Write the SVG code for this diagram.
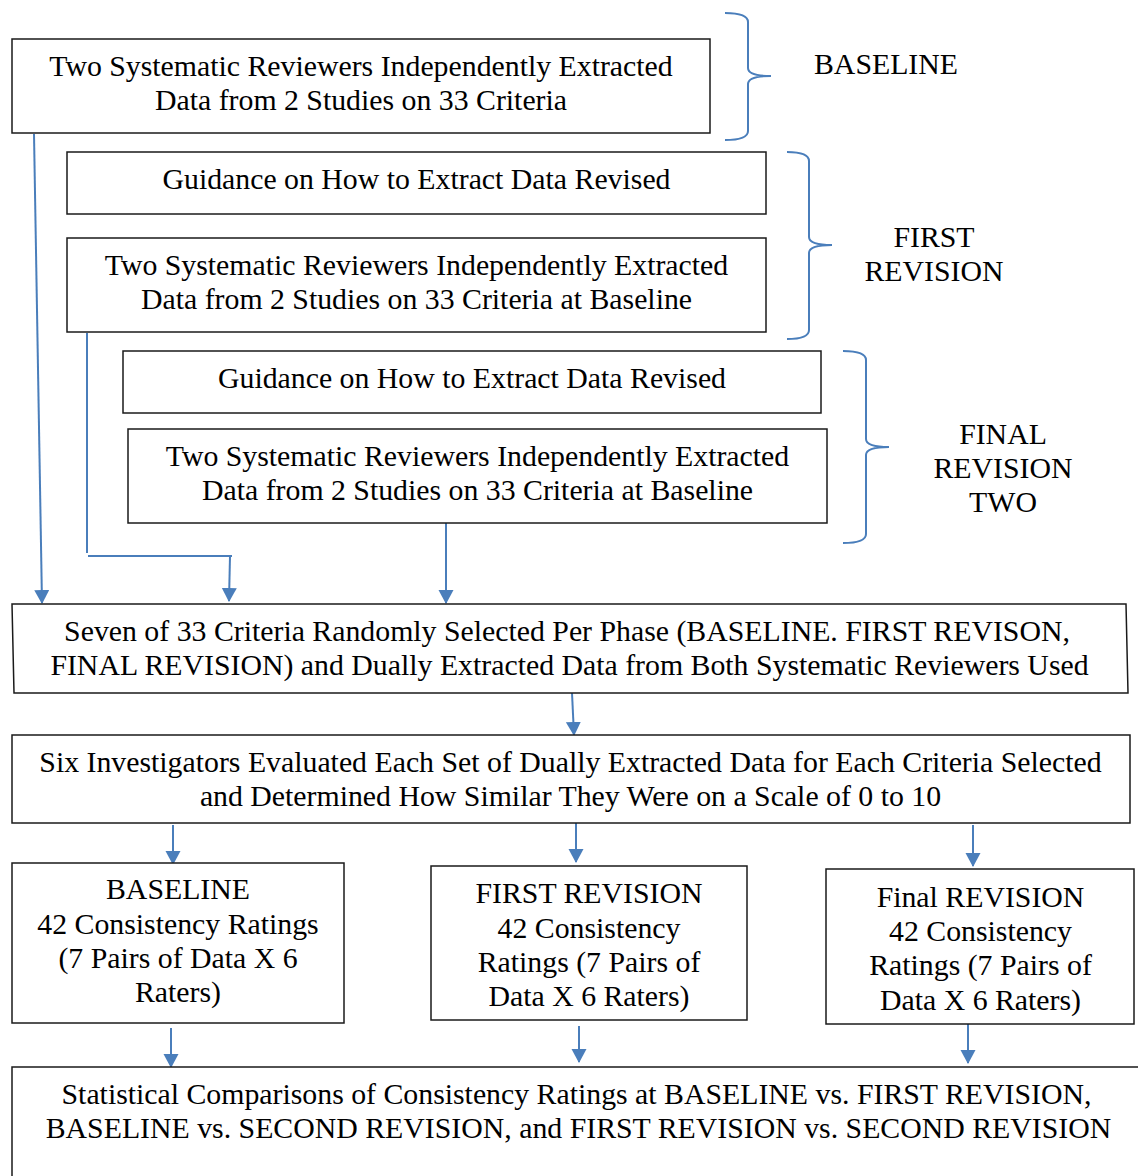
<svg xmlns="http://www.w3.org/2000/svg" width="1138" height="1176" viewBox="0 0 1138 1176">
<defs>
<style>
.box{fill:#fff;stroke:#1a1a1a;stroke-width:1.5}
.t{font-family:"Liberation Serif","Times New Roman",serif;font-size:29.8px;fill:#000;text-anchor:middle}
.c{fill:none;stroke:#4a7ebb;stroke-width:2}
.br{fill:none;stroke:#4a7ebb;stroke-width:2}
</style>
<marker id="ah" markerUnits="userSpaceOnUse" markerWidth="16" markerHeight="16" refX="13" refY="7.5" orient="auto">
<path d="M0,0 L14,7.5 L0,15 z" fill="#4a7ebb"/>
</marker>
</defs>
<rect width="1138" height="1176" fill="#fff"/>

<g id="connectors">
<path class="c" d="M34,134 L42,603" marker-end="url(#ah)"/>
<path class="c" d="M87,333 L87,553"/>
<path class="c" d="M88,556 L232,556"/>
<path class="c" d="M230,556 L229,601" marker-end="url(#ah)"/>
<path class="c" d="M446,523 L446,603" marker-end="url(#ah)"/>
<path class="c" d="M572,693 L574,735" marker-end="url(#ah)"/>
<path class="c" d="M173,825 L173,864" marker-end="url(#ah)"/>
<path class="c" d="M576,822 L576,862" marker-end="url(#ah)"/>
<path class="c" d="M973,825 L973,866" marker-end="url(#ah)"/>
<path class="c" d="M171,1028 L171,1067" marker-end="url(#ah)"/>
<path class="c" d="M579,1026 L579,1062" marker-end="url(#ah)"/>
<path class="c" d="M968,1024 L968,1063" marker-end="url(#ah)"/>
</g>

<g id="brace-baseline">
<path class="br" d="M725,13 Q748,13 748,22 L748,68 Q748,76 771,76 Q748,76 748,84 L748,131 Q748,140 725,140"/>
<text class="t" x="886" y="74">BASELINE</text>
</g>
<g id="brace-first">
<path class="br" d="M787,152 Q809,152 809,161 L809,237 Q809,245 832,245 Q809,245 809,253 L809,330 Q809,339 787,339"/>
<text class="t" x="934" y="247">FIRST</text>
<text class="t" x="934" y="281">REVISION</text>
</g>
<g id="brace-final">
<path class="br" d="M843,351 Q866,351 866,360 L866,439 Q866,447 889,447 Q866,447 866,455 L866,534 Q866,543 843,543"/>
<text class="t" x="1003" y="444">FINAL</text>
<text class="t" x="1003" y="478">REVISION</text>
<text class="t" x="1003" y="512">TWO</text>
</g>

<g id="n1">
<rect class="box" x="12" y="39" width="698" height="94"/>
<text class="t" x="361" y="76">Two Systematic Reviewers Independently Extracted</text>
<text class="t" x="361" y="110">Data from 2 Studies on 33 Criteria</text>
</g>
<g id="n2">
<rect class="box" x="67" y="152" width="699" height="62"/>
<text class="t" x="416.5" y="189">Guidance on How to Extract Data Revised</text>
</g>
<g id="n3">
<rect class="box" x="67" y="238" width="699" height="94"/>
<text class="t" x="416.5" y="275">Two Systematic Reviewers Independently Extracted</text>
<text class="t" x="416.5" y="309">Data from 2 Studies on 33 Criteria at Baseline</text>
</g>
<g id="n4">
<rect class="box" x="123" y="351" width="698" height="62"/>
<text class="t" x="472" y="388">Guidance on How to Extract Data Revised</text>
</g>
<g id="n5">
<rect class="box" x="128" y="429" width="699" height="94"/>
<text class="t" x="477.5" y="466">Two Systematic Reviewers Independently Extracted</text>
<text class="t" x="477.5" y="500">Data from 2 Studies on 33 Criteria at Baseline</text>
</g>
<g id="n6">
<polygon class="box" points="12,604 1126,604 1128,693 14,693"/>
<text class="t" x="567" y="641">Seven of 33 Criteria Randomly Selected Per Phase (BASELINE. FIRST REVISON,</text>
<text class="t" x="569.5" y="675">FINAL REVISION) and Dually Extracted Data from Both Systematic Reviewers Used</text>
</g>
<g id="n7">
<rect class="box" x="12" y="735" width="1118" height="88"/>
<text class="t" x="570.5" y="772">Six Investigators Evaluated Each Set of Dually Extracted Data for Each Criteria Selected</text>
<text class="t" x="570.5" y="806">and Determined How Similar They Were on a Scale of 0 to 10</text>
</g>
<g id="n8">
<rect class="box" x="12" y="863" width="332" height="160"/>
<text class="t" x="178" y="899">BASELINE</text>
<text class="t" x="178" y="934">42 Consistency Ratings</text>
<text class="t" x="178" y="968">(7 Pairs of Data X 6</text>
<text class="t" x="178" y="1002">Raters)</text>
</g>
<g id="n9">
<rect class="box" x="431" y="866" width="316" height="154"/>
<text class="t" x="589" y="903">FIRST REVISION</text>
<text class="t" x="589" y="938">42 Consistency</text>
<text class="t" x="589" y="972">Ratings (7 Pairs of</text>
<text class="t" x="589" y="1006">Data X 6 Raters)</text>
</g>
<g id="n10">
<rect class="box" x="826" y="869" width="308" height="155"/>
<text class="t" x="980.5" y="907">Final REVISION</text>
<text class="t" x="980.5" y="941">42 Consistency</text>
<text class="t" x="980.5" y="975">Ratings (7 Pairs of</text>
<text class="t" x="980.5" y="1010">Data X 6 Raters)</text>
</g>
<g id="n11">
<rect class="box" x="12" y="1067" width="1140" height="130"/>
<text class="t" x="576.5" y="1104">Statistical Comparisons of Consistency Ratings at BASELINE vs. FIRST REVISION,</text>
<text class="t" x="578.5" y="1138">BASELINE vs. SECOND REVISION, and FIRST REVISION vs. SECOND REVISION</text>
</g>
</svg>
